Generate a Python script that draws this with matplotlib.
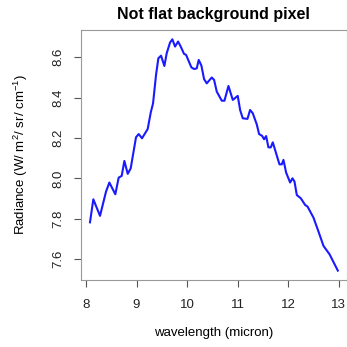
import matplotlib
matplotlib.use("Agg")
from matplotlib import pyplot as plt

wavelength = [8.079, 8.145, 8.277, 8.396, 8.462, 8.580, 8.646, 8.706, 8.759, 8.825,
              8.884, 8.989, 9.042, 9.108, 9.220, 9.280, 9.326, 9.385, 9.431, 9.484,
              9.550, 9.596, 9.662, 9.708, 9.761, 9.821, 9.873, 9.939, 9.979, 10.084,
              10.137, 10.190, 10.229, 10.282, 10.335, 10.388, 10.487, 10.533, 10.586, 10.685,
              10.738, 10.817, 10.903, 11.001, 11.048, 11.100, 11.193, 11.245, 11.298, 11.377,
              11.423, 11.483, 11.522, 11.562, 11.608, 11.654, 11.694, 11.826, 11.872, 11.905,
              11.958, 12.037, 12.083, 12.123, 12.169, 12.248, 12.334, 12.381, 12.499, 12.598,
              12.697, 12.816, 12.980]
radiance = [7.783, 7.897, 7.815, 7.935, 7.980, 7.922, 8.004, 8.013, 8.087, 8.023,
            8.050, 8.204, 8.220, 8.199, 8.245, 8.326, 8.372, 8.513, 8.595, 8.608,
            8.557, 8.620, 8.673, 8.689, 8.653, 8.678, 8.653, 8.617, 8.612, 8.550,
            8.542, 8.545, 8.587, 8.559, 8.492, 8.471, 8.500, 8.488, 8.430, 8.385,
            8.385, 8.458, 8.389, 8.409, 8.339, 8.298, 8.295, 8.339, 8.323, 8.268,
            8.220, 8.211, 8.194, 8.210, 8.154, 8.154, 8.179, 8.070, 8.070, 8.092,
            8.029, 7.980, 8.001, 7.985, 7.918, 7.902, 7.869, 7.861, 7.806, 7.737,
            7.666, 7.625, 7.544]
xticks = [8, 9, 10, 11, 12, 13]
yticks = [7.6, 7.8, 8.0, 8.2, 8.4, 8.6]
ytick_labels = ["7.6", "7.8", "8.0", "8.2", "8.4", "8.6"]

plt.rcParams['font.family'] = ['Liberation Sans', 'DejaVu Sans']
plt.rcParams['mathtext.fontset'] = 'custom'
plt.rcParams['mathtext.rm'] = 'Liberation Sans'
plt.rcParams['mathtext.it'] = 'Liberation Sans:italic'
plt.rcParams['mathtext.default'] = 'rm'

fig = plt.figure(figsize=(3.47, 3.47), dpi=100)
ax = fig.add_axes([0.2334, 0.1931, 0.7652, 0.7204])

ax.plot(wavelength, radiance, color='#1a1aff', lw=1.5)
ax.set_xlim(7.901, 13.152)
ax.set_ylim(7.4975, 8.735)

ax.set_xticks(xticks)
ax.set_yticks(yticks)
ax.set_yticklabels(ytick_labels, rotation=90, va='center')
ax.tick_params(direction='out', length=5, width=0.8, color='#555555',
               labelcolor='#222222', labelsize=9.5)
ax.tick_params(axis='x', pad=9)
ax.tick_params(axis='y', pad=7)
for s in ax.spines.values():
    s.set_color('#999999')
    s.set_linewidth(0.8)

ax.set_title("Not flat background pixel", fontsize=11.5, fontweight='bold', pad=8)
ax.set_xlabel("wavelength (micron)", fontsize=9.5, labelpad=11)
ax.set_ylabel("Radiance (W/ m$^2$/ sr/ cm$^{-1}$)", fontsize=9.5, labelpad=16)

fig.savefig("out.png", dpi=100)
